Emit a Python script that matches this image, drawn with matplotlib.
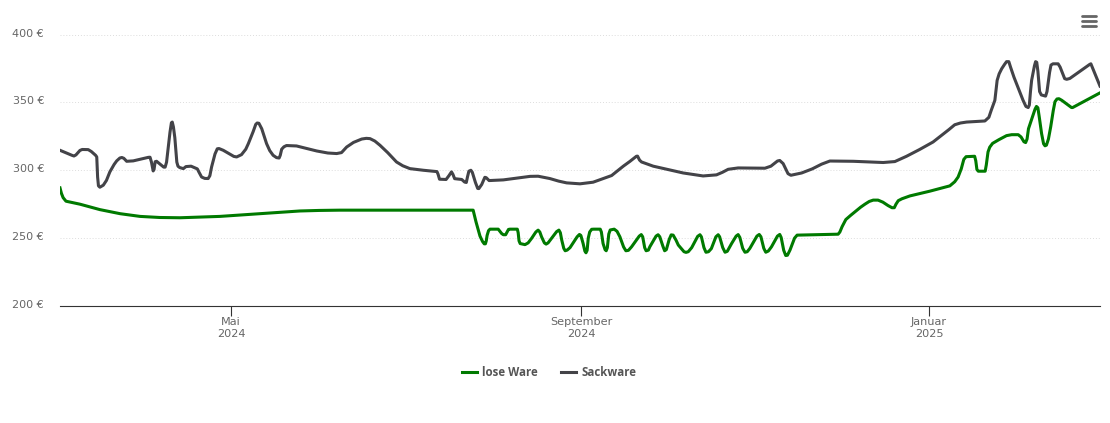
import matplotlib
matplotlib.use("Agg")
import matplotlib.pyplot as plt
from matplotlib.lines import Line2D
from matplotlib.transforms import ScaledTranslation
import pandas as pd

plt.rcParams['font.family'] = ['DejaVu Sans']

# x values are days since the first date in the chart
startDate = pd.Timestamp("2024-03-02")

loosePoints = [(0, 287), (0.5, 283), (1.1, 279.8), (2.1, 277.2), (7, 275), (14, 271), (21.1, 268), (28.1, 266), (35, 265.2),
               (42.1, 265), (56.1, 266), (70.2, 268), (84.2, 270), (91, 270.4), (98.2, 270.6), (145, 270.6), (146, 262),
               (147.4, 251.5), (148.3, 247.5), (148.9, 245.8), (149.3, 245.8), (149.6, 248), (149.9, 252), (150.4, 255.5),
               (150.9, 256.6), (153.8, 256.6), (154.4, 255), (155, 253.4), (155.6, 252.5), (156.4, 252.5), (156.9, 254.5),
               (157.4, 256.4), (157.9, 256.6), (160.5, 256.6), (160.8, 254), (161.1, 248), (161.5, 246), (163.2, 245.2),
               (164.3, 246.5), (165.5, 249.8), (167, 254.5), (167.8, 255.9), (168.4, 254.5), (169, 251), (170, 246.5),
               (170.6, 245.6), (171.3, 246.5), (172.5, 249.8), (174.3, 254.8), (175.1, 255.9), (175.6, 254), (176.1, 248.5),
               (176.8, 242.5), (177.3, 240.7), (178, 241.2), (179, 243), (181.5, 251), (182.3, 252.7), (182.8, 252),
               (183.6, 246), (184.2, 240.5), (184.6, 239.2), (185, 241), (185.4, 250), (185.9, 254.5), (186.6, 256.5),
               (187.3, 256.6), (189.6, 256.6), (190, 254.5), (190.6, 246), (191.3, 241.5), (191.7, 240.7), (192.1, 243),
               (192.6, 253), (193.1, 256), (194.5, 256.6), (195.5, 255), (196.5, 251), (197.8, 243.5), (198.6, 240.7),
               (199.5, 241), (200.6, 243.6), (203.3, 251.5), (204, 252.6), (204.5, 251), (205.2, 243), (205.7, 240.7),
               (206.5, 241.2), (207, 243.6), (209.2, 251.5), (209.9, 252.5), (210.5, 251), (211.6, 244), (212.2, 240.7),
               (212.8, 241.5), (213.8, 249), (214.5, 252.4), (215.2, 252.2), (216.2, 248.5), (217, 244.9), (219, 240),
               (219.7, 239.5), (220.5, 240), (221.7, 243), (223.8, 251.3), (224.6, 252.5), (225.1, 251), (226, 243),
               (226.7, 239.6), (227.6, 240), (228.6, 242.3), (230.2, 251), (231, 252.5), (231.5, 251), (232.6, 243),
               (233.4, 239.6), (234.2, 240.3), (235.7, 246), (237.3, 251.5), (238, 252.6), (238.6, 250.5), (239.6, 242.5),
               (240.4, 239.6), (241.2, 240), (242.1, 242.4), (244.6, 251.5), (245.4, 252.7), (246, 251), (247, 242.5),
               (247.7, 239.6), (248.6, 240.5), (249.7, 243.6), (251.8, 251.5), (252.6, 252.7), (253.1, 250.5), (254, 241),
               (254.7, 237.2), (255.3, 237.4), (256.2, 241.2), (257.8, 250), (258.7, 252.2), (273.1, 252.9), (273.7, 254.5),
               (274.5, 258.5), (275.8, 263.7), (277.5, 266.8), (279, 269.4), (281, 272.8), (282.5, 275), (284, 277),
               (285.4, 278), (287.1, 278), (288.8, 276.5), (290.6, 274), (292, 272.4), (292.8, 272.4), (293.4, 275),
               (294.2, 277.6), (295.5, 279), (298.3, 281.1), (305.3, 284.6), (312.3, 288.5), (314, 291.5), (315.2, 295),
               (316.3, 301), (317.2, 308), (318, 310), (321, 310.3), (321.4, 307), (321.8, 300.5), (322.3, 299.3),
               (324.7, 299.3), (325.1, 304), (325.7, 313.5), (326.3, 317), (327.3, 319.8), (329.5, 322.5), (332.2, 325.5),
               (334, 326.2), (336.3, 326.2), (337.3, 324.5), (338.3, 321), (338.9, 320.4), (339.4, 323), (339.9, 330.6),
               (341, 337.5), (342.2, 345), (342.7, 347), (343.2, 346), (343.7, 339), (344.5, 327), (345.2, 319.5),
               (345.7, 318), (346.2, 318.5), (346.9, 323), (347.7, 332), (348.6, 344), (349.2, 350.5), (349.9, 352.5),
               (350.6, 352.7), (351.6, 351.5), (355, 346.2), (355.4, 346.2), (365, 357)]

sackPoints = [(0, 314.7), (4.2, 311), (4.9, 310.5), (5.6, 311.3), (7, 314.6), (7.8, 315.3), (9.9, 315.2), (11, 313.8),
              (12.5, 311), (12.9, 309.8), (13.05, 303), (13.2, 295), (13.5, 288.5), (14, 287.5), (15.2, 289), (16.3, 292.5),
              (17.5, 298.8), (19, 304.3), (19.9, 306.9), (21, 309), (21.7, 309.4), (22.4, 308.8), (23.4, 306.6), (25.7, 306.9),
              (31, 309.5), (31.6, 309.6), (32.1, 306), (32.7, 299.5), (33, 300.5), (33.4, 306.3), (33.9, 306.6), (36.4, 302.3),
              (36.9, 302.3), (37.4, 306), (38, 317), (38.6, 328), (39.1, 335), (39.4, 335.5), (39.8, 332), (40.3, 324),
              (41, 306), (41.4, 303), (42, 302), (43.3, 301.2), (44.2, 302.7), (46, 303), (48.2, 301), (48.8, 298.5),
              (49.7, 295), (50.8, 294), (52, 293.9), (52.6, 296), (53.2, 302.4), (54.4, 312), (55.2, 315.8), (55.8, 316),
              (57.3, 314.7), (61, 310.2), (62, 309.8), (63.7, 311.5), (65.2, 315.5), (66.1, 319.6), (67.8, 328.5), (68.7, 333.8),
              (69.2, 334.8), (69.8, 334.6), (70.8, 330.6), (72.5, 319.6), (73.6, 314.5), (74.8, 311), (76, 309.3), (76.9, 309),
              (77.3, 311), (77.8, 315.5), (78.6, 317.3), (79.5, 318.2), (83, 317.9), (90.1, 314.2), (94, 312.7), (97.1, 312.3),
              (98.8, 313), (100.6, 317.1), (103, 320.5), (105.9, 323), (107.5, 323.5), (108.8, 323.3), (110.5, 321.5),
              (112.3, 318.4), (115, 313), (118.1, 306.1), (120.3, 303.3), (122.8, 301.2), (127.5, 300), (132.3, 299), (132.7, 297),
              (133.2, 293.4), (135.5, 293.2), (136.5, 296), (137.4, 298.8), (137.9, 297), (138.5, 293.8), (141, 293.2), (142, 291.3),
              (142.6, 291), (143, 295), (143.5, 299.3), (144.2, 300), (144.7, 298.5), (145.8, 291), (146.6, 286.6), (147, 286.5),
              (148, 289.5), (149.1, 294.8), (149.6, 294.5), (150.6, 292.4), (155.6, 292.9), (161, 294.4), (165, 295.5),
              (167.8, 295.6), (171.9, 293.9), (175, 292), (177.8, 290.7), (182.5, 290), (187.1, 291.2), (193.6, 296.1),
              (197.7, 303), (200, 306.5), (202.3, 310.3), (202.7, 310.4), (203.4, 307.5), (204.1, 306.1), (208.2, 303),
              (218.7, 298), (225.7, 295.8), (230.4, 296.6), (232.5, 298.5), (234.5, 300.7), (238, 301.7), (247.4, 301.5),
              (249.5, 303), (251.8, 306.8), (252.6, 307.2), (253.8, 304.9), (255.5, 297.5), (256.5, 296.3), (260.3, 298),
              (264, 301), (267.3, 304.5), (270.2, 306.8), (278.4, 306.6), (288.9, 305.7), (293, 306.4), (297.1, 310.3),
              (301.7, 315.3), (306.4, 320.8), (309.9, 326.5), (312, 330), (314, 333.5), (316, 334.8), (318.2, 335.5), (324.6, 336.3),
              (326, 339), (326.8, 344), (328.1, 351.5), (328.9, 366.2), (329.6, 371), (330.5, 374.8), (331.5, 378), (332.2, 380),
              (333, 380), (333.6, 376), (334.8, 368.6), (338, 351.5), (339, 347), (339.8, 346.2), (340.2, 348), (340.6, 358),
              (341, 366.2), (342, 377), (342.4, 380), (342.8, 379.5), (343.2, 373), (343.8, 358), (344.4, 355.5), (345.9, 354.6),
              (346.4, 358), (347.3, 372), (347.8, 377.5), (348.5, 378.4), (350.3, 378.4), (351, 376), (352.6, 367.5), (353.3, 367),
              (354.4, 367.6), (361.4, 378), (361.8, 378.4), (365, 362)]

yTicks = [200, 250, 300, 350, 400]
xTickDates = ["2024-05-01", "2024-09-01", "2025-01-01"]
xTickLabels = ["Mai\n2024", "September\n2024", "Januar\n2025"]

W, H = 1110, 423
fig = plt.figure(figsize=(W / 100, H / 100), dpi=100)
ax = fig.add_axes([60 / W, 1 - 306 / H, 1040 / W, (306 - 34.5) / H])

textColor = "#666666"

looseDays, looseVals = zip(*loosePoints)
sackDays, sackVals = zip(*sackPoints)
ax.plot(looseDays, looseVals, color="#007a00", lw=2.2, solid_joinstyle="round", label="lose Ware", zorder=3)
ax.plot(sackDays, sackVals, color="#434348", lw=2.2, solid_joinstyle="round", label="Sackware", zorder=3)

ax.set_xlim(0, 365)
ax.set_ylim(200, 400)

#Y axis, dotted grid and euro labels
ax.set_yticks(yTicks)
ax.set_yticklabels([str(v) + " €" for v in yTicks], color=textColor, fontsize=8)
ax.tick_params(axis="y", length=0, pad=11.5)
up = ScaledTranslation(0, 2 / 100, fig.dpi_scale_trans)
for label in ax.get_yticklabels():
    label.set_transform(label.get_transform() + up)
ax.grid(True, axis="y", color="#dddddd", lw=0.7, ls=(0, (1, 2)))
ax.set_axisbelow(True)

#X axis
xPos = [(pd.Timestamp(d) - startDate).days for d in xTickDates]
ax.set_xticks(xPos)
ax.set_xticklabels(xTickLabels, color=textColor, fontsize=8.1, linespacing=1.2)
ax.tick_params(axis="x", length=7.2, width=0.8, color="#333333", pad=0.8)

for side in ["top", "left", "right"]:
    ax.spines[side].set_visible(False)
ax.spines["bottom"].set_color("#333333")
ax.spines["bottom"].set_linewidth(0.8)

#Legend
leg = fig.legend(loc="center", bbox_to_anchor=(549 / W, 1 - 372.5 / H), ncol=2, frameon=False,
                 handlelength=1.3, handletextpad=0.45, columnspacing=2.0,
                 prop={"family": "Open Sans", "size": 8.3, "weight": "bold"})
for t in leg.get_texts():
    t.set_color("#555555")

#Menu icon top right
for y in [16, 21, 26]:
    fig.add_artist(Line2D([1082 / W, 1096 / W], [1 - y / H, 1 - y / H], color="#666666", lw=2.0,
                          solid_capstyle="round"))

plt.savefig("out.png", dpi=100)
